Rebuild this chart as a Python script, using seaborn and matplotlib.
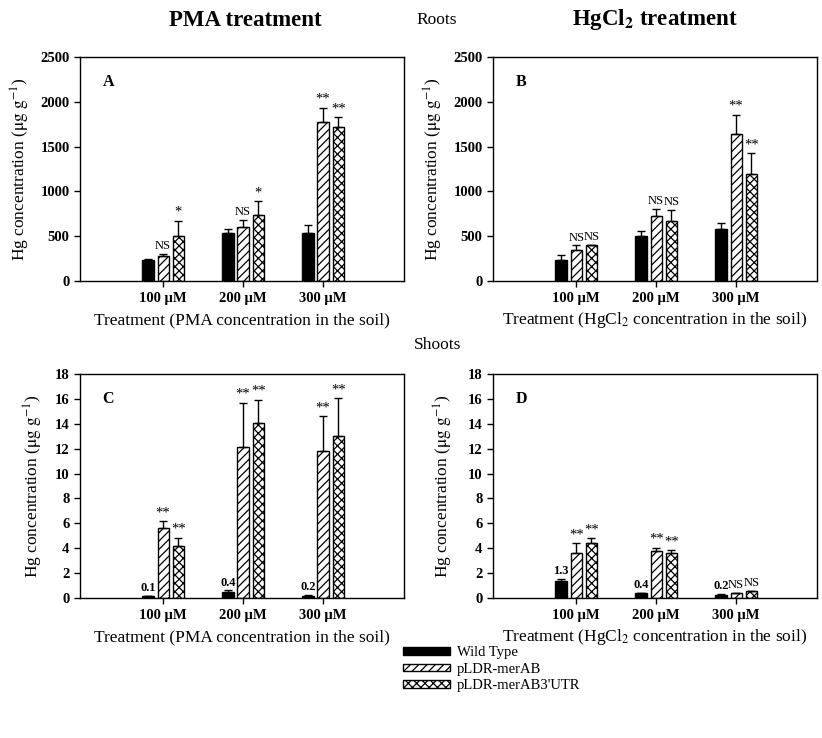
import numpy as np
import pandas as pd
import seaborn as sb
import matplotlib.pyplot as plt
from matplotlib.patches import Patch

# data
conc = ["100 µM", "200 µM", "300 µM"]
genotypes = ["Wild Type", "pLDR-merAB", "pLDR-merAB3'UTR"]

# roots, PMA (A)
roots_pma_wt = [235, 540, 540]
roots_pma_merab = [280, 600, 1780]
roots_pma_utr = [505, 740, 1720]
roots_pma_wt_err = [10, 40, 80]
roots_pma_merab_err = [25, 80, 155]
roots_pma_utr_err = [170, 150, 110]
roots_pma_sig = [["", "", ""], ["NS", "NS", "**"], ["*", "*", "**"]]

# roots, HgCl2 (B)
roots_hg_wt = [231, 506, 580]
roots_hg_merab = [342, 725, 1644]
roots_hg_utr = [398, 666, 1198]
roots_hg_wt_err = [59, 52, 67]
roots_hg_merab_err = [56, 78, 212]
roots_hg_utr_err = [5, 130, 230]
roots_hg_sig = [["", "", ""], ["NS", "NS", "**"], ["NS", "NS", "**"]]

# shoots, PMA (C)
shoots_pma_wt = [0.15, 0.45, 0.2]
shoots_pma_merab = [5.6, 12.1, 11.8]
shoots_pma_utr = [4.2, 14.1, 13.0]
shoots_pma_wt_err = [0.02, 0.16, 0.02]
shoots_pma_merab_err = [0.55, 3.6, 2.8]
shoots_pma_utr_err = [0.65, 1.85, 3.05]
shoots_pma_sig = [["0.1", "0.4", "0.2"], ["**", "**", "**"], ["**", "**", "**"]]

# shoots, HgCl2 (D)
shoots_hg_wt = [1.33, 0.4, 0.27]
shoots_hg_merab = [3.65, 3.75, 0.4]
shoots_hg_utr = [4.4, 3.65, 0.53]
shoots_hg_wt_err = [0.2, 0.03, 0.03]
shoots_hg_merab_err = [0.75, 0.3, 0.03]
shoots_hg_utr_err = [0.4, 0.2, 0.03]
shoots_hg_sig = [["1.3", "0.4", "0.2"], ["**", "**", "NS"], ["**", "**", "NS"]]

plt.rcParams['font.family'] = ['Liberation Serif', 'DejaVu Serif']
plt.rcParams['mathtext.fontset'] = 'stix'
plt.rcParams['hatch.linewidth'] = 0.9

fig = plt.figure(figsize=(8.22, 7.38), dpi=100)

W = 0.394
H = 0.3035
positions = {"A": [0.0973, 0.6192, W, H], "B": [0.5998, 0.6192, W, H],
             "C": [0.0973, 0.1897, W, H], "D": [0.5998, 0.1897, W, H]}
ylabel_x = {"A": -0.185, "B": -0.185, "C": -0.145, "D": -0.154}

hatches = ["", "////", "xxxx"]
colors = {"Wild Type": "black", "pLDR-merAB": "white", "pLDR-merAB3'UTR": "white"}


def panel(key, vals, errs, sig, ymax, ystep, xlabel):
    ax = fig.add_axes(positions[key])
    df = pd.DataFrame({
        "conc": conc * 3,
        "genotype": np.repeat(genotypes, 3),
        "value": np.concatenate(vals),
    })
    sb.barplot(data=df, x="conc", y="value", hue="genotype", hue_order=genotypes,
               palette=colors, width=0.57, gap=0.26, errorbar=None,
               edgecolor="black", linewidth=1, legend=False, ax=ax)
    pad = ymax * 0.008
    bar_groups = list(ax.containers)
    for i, cont in enumerate(bar_groups):
        for j, bar in enumerate(cont):
            bar.set_hatch(hatches[i])
            bar.set_edgecolor("black")
            xc = bar.get_x() + bar.get_width() / 2
            top = vals[i][j]
            e = errs[i][j]
            ax.errorbar(xc, top, yerr=[[0], [e]], fmt="none", ecolor="black",
                        elinewidth=1, capsize=3, capthick=1)
            if sig[i][j]:
                ax.text(xc, top + e + pad, sig[i][j], ha="center", va="bottom",
                        fontsize=10.5 if "*" in sig[i][j] else 9,
                        fontweight="bold" if "." in sig[i][j] else "normal")
    ax.set_xlim(-1.04, 3.01)
    ax.set_ylim(0, ymax)
    ax.set_yticks(np.arange(0, ymax + ystep / 2, ystep))
    for s in ax.spines.values():
        s.set_visible(True)
        s.set_color("black")
        s.set_linewidth(1)
    ax.tick_params(axis="both", direction="out", length=4, width=1, labelsize=10.5)
    ax.tick_params(axis="x", pad=4)
    for lab in ax.get_xticklabels() + ax.get_yticklabels():
        lab.set_fontweight("bold")
    ax.set_xlabel(xlabel, fontsize=12.5, va="center")
    ax.xaxis.set_label_coords(0.5, -0.175)
    ax.set_ylabel(r"Hg concentration ($\mathrm{\mu g\ g^{-1}}$)", fontsize=12.5, va="center")
    ax.yaxis.set_label_coords(ylabel_x[key], 0.5)
    ax.text(0.07, 0.89, key, transform=ax.transAxes, fontsize=11.5, fontweight="bold",
            va="center", ha="left")
    return ax


panel("A", [roots_pma_wt, roots_pma_merab, roots_pma_utr],
      [roots_pma_wt_err, roots_pma_merab_err, roots_pma_utr_err],
      roots_pma_sig, 2500, 500, "Treatment (PMA concentration in the soil)")
panel("B", [roots_hg_wt, roots_hg_merab, roots_hg_utr],
      [roots_hg_wt_err, roots_hg_merab_err, roots_hg_utr_err],
      roots_hg_sig, 2500, 500, r"Treatment (HgCl$_2$ concentration in the soil)")
panel("C", [shoots_pma_wt, shoots_pma_merab, shoots_pma_utr],
      [shoots_pma_wt_err, shoots_pma_merab_err, shoots_pma_utr_err],
      shoots_pma_sig, 18, 2, "Treatment (PMA concentration in the soil)")
panel("D", [shoots_hg_wt, shoots_hg_merab, shoots_hg_utr],
      [shoots_hg_wt_err, shoots_hg_merab_err, shoots_hg_utr_err],
      shoots_hg_sig, 18, 2, r"Treatment (HgCl$_2$ concentration in the soil)")

# headings
fig.text(245 / 822, 1 - 20 / 738, "PMA treatment", fontsize=16.5, fontweight="bold",
         ha="center", va="center")
fig.text(655 / 822, 1 - 20 / 738, r"HgCl$_\mathbf{2}$ treatment", fontsize=16.5,
         fontweight="bold", ha="center", va="center")
fig.text(416 / 822, 1 - 20 / 738, "Roots", fontsize=12.5, ha="left", va="center")
fig.text(414 / 822, 1 - 345 / 738, "Shoots", fontsize=12.5, ha="left", va="center")

handles = [Patch(facecolor=colors[g], edgecolor="black", hatch=h, label=g)
           for g, h in zip(genotypes, hatches)]
fig.legend(handles=handles, loc="upper left", bbox_to_anchor=(390 / 822, 1 - 633 / 738),
           frameon=False, fontsize=10.5, handlelength=3.2, handleheight=0.45,
           labelspacing=0.25, handletextpad=0.5)

plt.savefig("out.png", dpi=100)
